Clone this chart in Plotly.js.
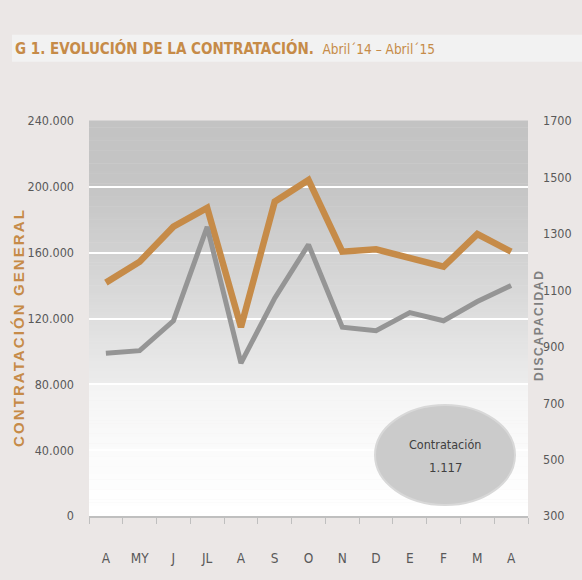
<!DOCTYPE html>
<html>
<head>
<meta charset="utf-8">
<script src="https://cdn.plot.ly/plotly-3.0.1.min.js"></script>
<style>html,body{margin:0;padding:0;background:#EBE7E6;}</style>
</head>
<body>
<div id="chart" style="width:582px;height:580px;"></div>
<script>
// ---- data ----
const months = ['Abr14','May','Jun','Jul','Ago','Sep','Oct','Nov','Dic','Ene','Feb','Mar','Abr15'];
const monthLabels = ['A','MY','J','JL','A','S','O','N','D','E','F','M','A'];
const contratacionGeneral = [141800, 154500, 175800, 187200, 114800, 191000, 204200, 160600, 162000, 157200, 151500, 171300, 160600];
const discapacidad = [877, 886, 992, 1325, 842, 1072, 1262, 969, 957, 1021, 992, 1060, 1117];
const leftTicks = [0, 40000, 80000, 120000, 160000, 200000, 240000];
const rightTicks = [300, 500, 700, 900, 1100, 1300, 1500, 1700];

const ORANGE = '#C68B48';
const GRAY_LINE = '#959595';
const NARROW = '"Liberation Sans Narrow", "DejaVu Sans Condensed", sans-serif';
const SANS = '"Liberation Sans", Arial, sans-serif';

// background gradient bands (paper coords)
const stops = [[0,255],[0.167,251],[0.332,244],[0.336,236],[0.5,222],[0.667,209],[0.833,197],[1,195]];
function shadeAt(t){
  for(let i=0;i<stops.length-1;i++){
    const [a,ca]=stops[i],[b,cb]=stops[i+1];
    if(t>=a && t<=b){ return Math.round(ca+(cb-ca)*(t-a)/(b-a)); }
  }
  return 255;
}
const shapes = [];
const N = 120;
for(let i=0;i<N;i++){
  const y0=i/N, y1=(i+1)/N, c=shadeAt((y0+y1)/2);
  shapes.push({type:'rect',xref:'paper',yref:'paper',x0:0,x1:1,y0:y0,y1:y1+0.001,
    fillcolor:`rgb(${c},${c},${c})`,line:{width:0},layer:'below'});
}
// title bar
shapes.push({type:'rect',xref:'paper',yref:'paper',x0:-0.1754,x1:1.13,y0:1.150,y1:1.2185,
  fillcolor:'#F2F2F2',line:{width:0},layer:'below'});
// ellipse
shapes.push({type:'circle',xref:'paper',yref:'paper',x0:0.6515,x1:0.9704,y0:0.0278,y1:0.281,
  fillcolor:'#CBCBCB',line:{color:'#D8D8D8',width:2},layer:'above'});

function fmt(v){ return String(v).replace(/\B(?=(\d{3})+(?!\d))/g,'.'); }

const traces = [
  {x:months, y:contratacionGeneral, type:'scatter', mode:'lines', name:'Contratación general',
   line:{color:ORANGE,width:6.5}, yaxis:'y'},
  {x:months, y:discapacidad, type:'scatter', mode:'lines', name:'Discapacidad',
   line:{color:GRAY_LINE,width:5}, yaxis:'y2'}
];

const XTICKFONT = {family:NARROW,size:13.5,color:'#595959'};
const YTICKFONT = {family:NARROW,size:12.5,color:'#595959'};

const layout = {
  width:582, height:580,
  margin:{l:89,r:54,t:121,b:64},
  paper_bgcolor:'#EBE7E6', plot_bgcolor:'rgba(0,0,0,0)',
  separators:',.',
  showlegend:false, hovermode:false,
  title:{
    text:'<b>G 1. EVOLUCIÓN DE LA CONTRATACIÓN.</b>  <span style="font-size:13.5px">Abril´14 – Abril´15</span>',
    font:{family:NARROW,size:15,color:ORANGE},
    xref:'container', yref:'container', x:15/582, xanchor:'left', y:1-48.5/580, yanchor:'middle'
  },
  xaxis:{
    type:'category', range:[-0.5,12.5],
    tickmode:'array', tickvals:months, ticktext:monthLabels,
    tickson:'boundaries', ticks:'outside', ticklen:6, tickcolor:'#BFBFBF', tickwidth:1,
    showline:true, linecolor:'#BFBFBF', linewidth:2,
    showgrid:false, zeroline:false,
    tickfont:XTICKFONT,
    ticklabelstandoff:29
  },
  yaxis:{
    range:[0,240000], tickmode:'array', tickvals:leftTicks, tickformat:',d',
    showgrid:true, gridcolor:'#FFFFFF', gridwidth:2, zeroline:false, showline:false,
    tickfont:YTICKFONT,
    ticklabelstandoff:14
  },
  yaxis2:{
    range:[300,1700], tickmode:'array', tickvals:rightTicks, tickformat:'d',
    overlaying:'y', side:'right', showgrid:false, zeroline:false, showline:false,
    tickfont:YTICKFONT,
    ticklabelstandoff:14
  },
  shapes:shapes,
  annotations:[
    {xref:'paper',yref:'paper',x:(18-89)/439,y:(516-328)/395,textangle:-90,showarrow:false,
     text:'<span style="letter-spacing:2.1px">CONTRATACIÓN GENERAL</span>',
     font:{family:SANS,size:15,color:ORANGE,weight:'bold'},xanchor:'center',yanchor:'middle'},
    {xref:'paper',yref:'paper',x:(539-89)/439,y:(516-325)/395,textangle:-90,showarrow:false,
     text:'<span style="letter-spacing:1.7px">DISCAPACIDAD</span>',
     font:{family:SANS,size:12,color:'#7F7F7F',weight:'bold'},xanchor:'center',yanchor:'middle'},
    {xref:'paper',yref:'paper',x:0.811,y:(516-444)/395,text:'Contratación',showarrow:false,
     font:{family:NARROW,size:12.5,color:'#404040'},xanchor:'center',yanchor:'middle'},
    {xref:'paper',yref:'paper',x:0.811,y:(516-467)/395,text:fmt(discapacidad[discapacidad.length-1]),showarrow:false,
     font:{family:NARROW,size:13,color:'#404040'},xanchor:'center',yanchor:'middle'}
  ]
};

Plotly.newPlot('chart', traces, layout, {staticPlot:true, displayModeBar:false});
</script>
</body>
</html>
